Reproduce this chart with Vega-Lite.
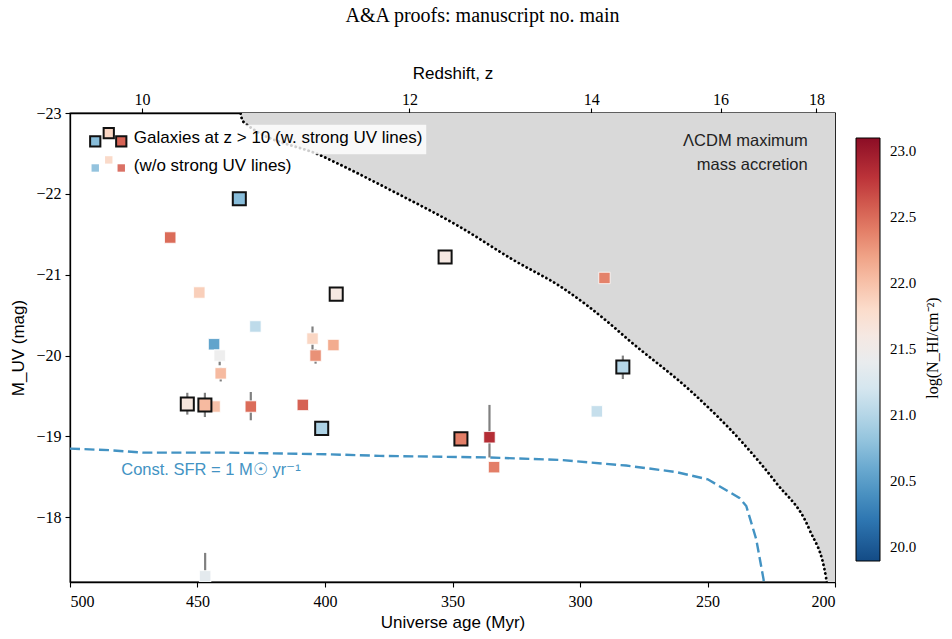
{
  "$schema": "https://vega.github.io/schema/vega-lite/v6.json",
  "width": 765,
  "height": 469,
  "autosize": {"type": "none"},
  "padding": {"left": 70, "top": 113, "right": 117, "bottom": 57},
  "background": "white",
  "title": {
    "text": "A&A proofs: manuscript no. main",
    "anchor": "middle",
    "frame": "group",
    "dx": 30,
    "offset": 38,
    "font": "Liberation Serif",
    "fontSize": 20,
    "fontWeight": "normal",
    "color": "black"
  },
  "config": {
    "view": {"stroke": "black", "strokeWidth": 1.3},
    "axis": {
      "grid": false,
      "domainColor": "black",
      "domainWidth": 1.3,
      "tickColor": "black",
      "tickWidth": 1.1,
      "tickSize": 5,
      "labelColor": "black",
      "labelFont": "Liberation Serif",
      "labelFontSize": 16,
      "labelPadding": 4,
      "titleFont": "Liberation Sans",
      "titleFontSize": 17,
      "titleFontWeight": "normal",
      "titleColor": "black"
    },
    "legend": {
      "labelFont": "Liberation Serif",
      "labelFontSize": 15,
      "labelColor": "black"
    }
  },
  "datasets": {
    "gal": [
      {"age": 433.6, "muv": -21.94, "nhi": 20.75, "uv": true, "lo": null, "hi": null},
      {"age": 395.6, "muv": -20.76, "nhi": 21.6, "uv": true, "lo": null, "hi": null},
      {"age": 454.0, "muv": -19.40, "nhi": 21.65, "uv": true, "lo": -19.54, "hi": -19.27},
      {"age": 447.1, "muv": -19.39, "nhi": 22.05, "uv": true, "lo": -19.54, "hi": -19.24},
      {"age": 401.3, "muv": -19.10, "nhi": 20.95, "uv": true, "lo": null, "hi": null},
      {"age": 352.9, "muv": -21.22, "nhi": 21.6, "uv": true, "lo": null, "hi": null},
      {"age": 283.2, "muv": -19.86, "nhi": 21.0, "uv": true, "lo": -20.0, "hi": -19.71},
      {"age": 346.7, "muv": -18.97, "nhi": 22.4, "uv": true, "lo": null, "hi": null},
      {"age": 460.7, "muv": -21.46, "nhi": 22.5, "uv": false, "lo": null, "hi": null},
      {"age": 449.3, "muv": -20.78, "nhi": 21.9, "uv": false, "lo": -20.84, "hi": -20.72},
      {"age": 427.3, "muv": -20.36, "nhi": 21.05, "uv": false, "lo": null, "hi": null},
      {"age": 404.9, "muv": -20.21, "nhi": 21.85, "uv": false, "lo": -20.36, "hi": -20.06},
      {"age": 396.7, "muv": -20.13, "nhi": 22.15, "uv": false, "lo": null, "hi": null},
      {"age": 443.5, "muv": -20.14, "nhi": 20.55, "uv": false, "lo": null, "hi": null},
      {"age": 441.3, "muv": -20.00, "nhi": 21.45, "uv": false, "lo": -20.05, "hi": -19.88},
      {"age": 403.7, "muv": -20.00, "nhi": 22.3, "uv": false, "lo": -20.08, "hi": -19.9},
      {"age": 440.9, "muv": -19.78, "nhi": 22.05, "uv": false, "lo": -19.85, "hi": -19.68},
      {"age": 443.3, "muv": -19.37, "nhi": 22.0, "uv": false, "lo": null, "hi": null},
      {"age": 429.1, "muv": -19.37, "nhi": 22.5, "uv": false, "lo": -19.55, "hi": -19.2},
      {"age": 408.7, "muv": -19.39, "nhi": 22.55, "uv": false, "lo": null, "hi": null},
      {"age": 290.4, "muv": -20.96, "nhi": 22.38, "uv": false, "lo": null, "hi": null},
      {"age": 293.4, "muv": -19.31, "nhi": 21.1, "uv": false, "lo": -19.36, "hi": -19.26},
      {"age": 335.5, "muv": -18.99, "nhi": 22.85, "uv": false, "lo": -19.39, "hi": -18.74},
      {"age": 333.7, "muv": -18.62, "nhi": 22.4, "uv": false, "lo": null, "hi": null},
      {"age": 447.0, "muv": -17.27, "nhi": 21.35, "uv": false, "lo": -17.56, "hi": -17.3}
    ],
    "lcdm": [
      {"age": 433.4, "muv": -23.05},
      {"age": 432.2, "muv": -22.896},
      {"age": 400.9, "muv": -22.464},
      {"age": 372.1, "muv": -22.011},
      {"age": 347.3, "muv": -21.595},
      {"age": 326.4, "muv": -21.187},
      {"age": 306.7, "muv": -20.834},
      {"age": 287.1, "muv": -20.362},
      {"age": 281.9, "muv": -20.219},
      {"age": 255.8, "muv": -19.539},
      {"age": 236.2, "muv": -18.921},
      {"age": 223.1, "muv": -18.427},
      {"age": 210.0, "muv": -17.846},
      {"age": 203.5, "muv": -17.252},
      {"age": 201.0, "muv": -16.5},
      {"age": 200.0, "muv": -16.3}
    ],
    "sfr": [
      {"age": 500.0, "muv": -18.85},
      {"age": 484.5, "muv": -18.83},
      {"age": 471.5, "muv": -18.80},
      {"age": 438.7, "muv": -18.80},
      {"age": 399.5, "muv": -18.78},
      {"age": 378.6, "muv": -18.76},
      {"age": 335.5, "muv": -18.74},
      {"age": 308.0, "muv": -18.71},
      {"age": 281.9, "muv": -18.64},
      {"age": 262.3, "muv": -18.56},
      {"age": 249.9, "muv": -18.47},
      {"age": 237.5, "muv": -18.24},
      {"age": 234.8, "muv": -18.14},
      {"age": 230.9, "muv": -17.73},
      {"age": 228.0, "muv": -17.23},
      {"age": 227.6, "muv": -17.0}
    ],
    "key": [
      {"age": 490.1, "muv": -22.65, "nhi": 20.75, "uv": true},
      {"age": 484.8, "muv": -22.75, "nhi": 21.85, "uv": true},
      {"age": 479.9, "muv": -22.65, "nhi": 22.55, "uv": true},
      {"age": 490.1, "muv": -22.32, "nhi": 20.75, "uv": false},
      {"age": 484.8, "muv": -22.42, "nhi": 21.85, "uv": false},
      {"age": 479.9, "muv": -22.32, "nhi": 22.55, "uv": false}
    ],
    "box": [
      {"age": 496.3, "age2": 360.3, "muv": -22.855, "muv2": -22.49}
    ]
  },
  "encoding": {
    "x": {
      "field": "age",
      "type": "quantitative",
      "scale": {"domain": [200, 500], "reverse": true, "nice": false, "zero": false},
      "axis": null
    },
    "y": {
      "field": "muv",
      "type": "quantitative",
      "scale": {"domain": [-23, -17.2], "reverse": true, "nice": false, "zero": false},
      "axis": null
    }
  },
  "layer": [
    {
      "data": {"name": "lcdm"},
      "mark": {"type": "area", "color": "#d9d9d9", "clip": true, "interpolate": "monotone"},
      "encoding": {
        "x": {
          "field": "age",
          "type": "quantitative",
          "scale": {"domain": [200, 500], "reverse": true, "nice": false, "zero": false},
          "axis": {
            "orient": "bottom",
            "title": "Universe age (Myr)",
            "values": [500, 450, 400, 350, 300, 250, 200],
            "format": "d",
            "labelPadding": 6,
            "titlePadding": 5
          }
        },
        "y": {
          "field": "muv",
          "type": "quantitative",
          "scale": {"domain": [-23, -17.2], "reverse": true, "nice": false, "zero": false},
          "axis": {
            "orient": "left",
            "title": "M_UV (mag)",
            "values": [-23, -22, -21, -20, -19, -18],
            "format": "d",
            "titlePadding": 8
          }
        },
        "y2": {"datum": -23}
      }
    },
    {
      "data": {"name": "lcdm"},
      "mark": {"type": "line", "color": "black", "strokeDash": [0.1, 4.4], "strokeCap": "round", "strokeWidth": 2.8, "clip": true, "interpolate": "monotone"},
      "encoding": {
        "x": {
          "field": "age",
          "type": "quantitative",
          "scale": {"domain": [200, 500], "reverse": true, "nice": false, "zero": false},
          "axis": {
            "orient": "top",
            "title": "Redshift, z",
            "values": [471.8, 366.9, 295.6, 244.9, 207.3],
            "labelExpr": "datum.value > 450 ? '10' : datum.value > 330 ? '12' : datum.value > 270 ? '14' : datum.value > 225 ? '16' : '18'",
            "labelPadding": 1,
            "titlePadding": 9
          }
        }
      }
    },
    {
      "data": {"name": "box"},
      "mark": {"type": "rect", "color": "white", "opacity": 0.8},
      "encoding": {
        "x2": {"field": "age2"},
        "y2": {"field": "muv2"}
      }
    },
    {
      "data": {"name": "sfr"},
      "mark": {"type": "line", "color": "#4393c3", "strokeDash": [10, 4.5], "strokeWidth": 2.4, "clip": true}
    },
    {
      "data": {"name": "gal"},
      "transform": [{"filter": "datum.lo != null"}],
      "mark": {"type": "rule", "color": "#808080", "strokeWidth": 2.2, "clip": true},
      "encoding": {
        "y": {
          "field": "lo",
          "type": "quantitative",
          "scale": {"domain": [-23, -17.2], "reverse": true, "nice": false, "zero": false},
          "axis": null
        },
        "y2": {"field": "hi"}
      }
    },
    {
      "data": {"name": "gal"},
      "transform": [{"filter": "!datum.uv"}],
      "mark": {"type": "square", "size": 130, "filled": true, "opacity": 1, "stroke": "white", "strokeWidth": 0.8, "clip": true},
      "encoding": {
        "color": {
          "field": "nhi",
          "type": "quantitative",
          "scale": {"scheme": "redblue", "reverse": true, "domain": [19.89, 23.1], "nice": false, "zero": false},
          "legend": {
            "orient": "none",
            "legendX": 786,
            "legendY": 25,
            "direction": "vertical",
            "gradientLength": 423,
            "gradientThickness": 24,
            "gradientStrokeColor": "black",
            "gradientStrokeWidth": 1,
            "values": [20, 20.5, 21, 21.5, 22, 22.5, 23],
            "format": ".1f",
            "labelOffset": 10,
            "padding": 0,
            "title": null
          }
        }
      }
    },
    {
      "data": {"name": "gal"},
      "transform": [{"filter": "datum.uv"}],
      "mark": {"type": "square", "size": 170, "filled": true, "opacity": 1, "stroke": "#111111", "strokeWidth": 2, "clip": true},
      "encoding": {
        "color": {
          "field": "nhi",
          "type": "quantitative",
          "scale": {"scheme": "redblue", "reverse": true, "domain": [19.89, 23.1], "nice": false, "zero": false}
        }
      }
    },
    {
      "data": {"name": "key"},
      "transform": [{"filter": "datum.uv"}],
      "mark": {"type": "square", "size": 105, "filled": true, "opacity": 1, "stroke": "#111111", "strokeWidth": 2},
      "encoding": {
        "color": {
          "field": "nhi",
          "type": "quantitative",
          "scale": {"scheme": "redblue", "reverse": true, "domain": [19.89, 23.1], "nice": false, "zero": false}
        }
      }
    },
    {
      "data": {"name": "key"},
      "transform": [{"filter": "!datum.uv"}],
      "mark": {"type": "square", "size": 55, "filled": true, "opacity": 0.9},
      "encoding": {
        "color": {
          "field": "nhi",
          "type": "quantitative",
          "scale": {"scheme": "redblue", "reverse": true, "domain": [19.89, 23.1], "nice": false, "zero": false}
        }
      }
    },
    {
      "data": {"values": [
        {"age": 475.0, "muv": -22.69, "label": "Galaxies at z > 10 (w. strong UV lines)"},
        {"age": 475.0, "muv": -22.34, "label": "(w/o strong UV lines)"}
      ]},
      "mark": {"type": "text", "align": "left", "baseline": "middle", "font": "Liberation Sans", "fontSize": 17, "color": "black"},
      "encoding": {"text": {"field": "label"}}
    },
    {
      "data": {"values": [
        {"age": 210.7, "muv": -22.65, "label": "ΛCDM maximum"},
        {"age": 210.7, "muv": -22.36, "label": "mass accretion"}
      ]},
      "mark": {"type": "text", "align": "right", "baseline": "middle", "font": "Liberation Sans", "fontSize": 16.5, "color": "#222222"},
      "encoding": {
        "text": {"field": "label"},
        "y": {
          "field": "muv",
          "type": "quantitative",
          "scale": {"domain": [-23, -17.2], "reverse": true, "nice": false, "zero": false},
          "axis": {
            "orient": "right",
            "labels": false,
            "ticks": false,
            "domain": false,
            "title": "log(N_HI/cm⁻²)",
            "titleFont": "Liberation Serif",
            "titleFontSize": 16,
            "titleAngle": -90,
            "titlePadding": 105
          }
        }
      }
    },
    {
      "data": {"values": [
        {"age": 479.9, "muv": -18.59, "label": "Const. SFR = 1 M☉ yr⁻¹"}
      ]},
      "mark": {"type": "text", "align": "left", "baseline": "middle", "font": "Liberation Sans", "fontSize": 16.5, "color": "#4393c3"},
      "encoding": {"text": {"field": "label"}}
    }
  ],
  "resolve": {"axis": {"x": "independent", "y": "independent"}}
}
